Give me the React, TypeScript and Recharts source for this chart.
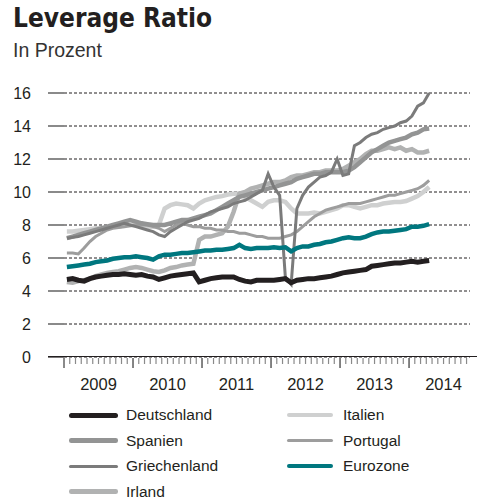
import React from 'react';
import { LineChart, Line, XAxis, YAxis, CartesianGrid } from 'recharts';

// Monthly values, Jan 2009 .. Apr 2014
const DEUTSCHLAND = [
  4.7, 4.75, 4.65, 4.6, 4.75, 4.85, 4.9, 4.95, 5.0, 5.0, 5.05, 5.0,
  4.95, 5.0, 4.9, 4.85, 4.7, 4.8, 4.9, 4.95, 5.0, 5.05, 5.1, 4.55,
  4.65, 4.75, 4.8, 4.85, 4.85, 4.85, 4.7, 4.6, 4.55, 4.65, 4.65, 4.65,
  4.65, 4.7, 4.75, 4.5, 4.65, 4.7, 4.75, 4.75, 4.8, 4.85, 4.9, 5.0,
  5.1, 5.15, 5.2, 5.25, 5.3, 5.5, 5.55, 5.6, 5.65, 5.7, 5.7, 5.75,
  5.8, 5.75, 5.8, 5.85,
];
const EUROZONE = [
  5.45, 5.5, 5.55, 5.6, 5.65, 5.75, 5.8, 5.85, 5.95, 6.0, 6.05, 6.05,
  6.1, 6.05, 6.0, 5.9, 6.1, 6.2, 6.2, 6.25, 6.3, 6.3, 6.35, 6.4,
  6.45, 6.45, 6.5, 6.5, 6.55, 6.6, 6.8, 6.6, 6.55, 6.6, 6.6, 6.6,
  6.65, 6.6, 6.65, 6.4, 6.6, 6.7, 6.7, 6.8, 6.85, 6.95, 7.0, 7.1,
  7.2, 7.25, 7.2, 7.2, 7.3, 7.45, 7.55, 7.6, 7.6, 7.65, 7.7, 7.75,
  7.9, 7.9, 7.95, 8.05,
];
const ITALIEN = [
  7.6, 7.6, 7.65, 7.7, 7.75, 7.8, 7.8, 7.85, 7.9, 7.9, 8.0, 8.0,
  8.0, 7.95, 7.9, 7.9, 8.0, 9.0, 9.2, 9.3, 9.25, 9.2, 9.0, 9.3,
  9.5, 9.6, 9.7, 9.75, 9.85, 9.9, 9.9, 9.7, 9.5, 9.3, 9.1, 9.4,
  9.5, 9.5, 9.4, 9.0, 8.7, 8.7, 8.7, 8.75, 8.7, 8.8, 8.9, 9.0,
  9.2, 9.2, 9.1, 9.0, 9.1, 9.2, 9.2, 9.3, 9.35, 9.4, 9.4, 9.45,
  9.6, 9.75, 10.0, 10.3,
];
const IRLAND = [
  4.55, 4.5, 4.6, 4.65, 4.75, 4.9, 5.0, 5.1, 5.15, 5.2, 5.3, 5.4,
  5.45, 5.4, 5.3, 5.2, 5.15, 5.25, 5.4, 5.45, 5.55, 5.6, 5.65, 7.1,
  7.3, 7.3, 7.4, 7.5, 7.9, 8.8, 9.9, 10.0, 10.2, 10.3, 10.4, 10.5,
  10.6, 10.6, 10.7, 10.9, 11.0, 11.0, 11.1, 11.2, 11.2, 11.3, 11.3, 11.3,
  11.4, 11.6, 11.8, 12.0, 12.3, 12.5, 12.5, 12.6, 12.7, 12.6, 12.7, 12.5,
  12.6, 12.4, 12.4, 12.5,
];
const SPANIEN = [
  7.2, 7.3, 7.4, 7.5, 7.6, 7.7, 7.8, 7.9, 8.0, 8.1, 8.2, 8.3,
  8.2, 8.1, 8.05, 8.0, 8.0, 8.0, 8.1, 8.2, 8.3, 8.3, 8.4, 8.5,
  8.6, 8.7, 8.9, 9.1, 9.3, 9.5, 9.7, 9.8, 9.9, 10.0, 10.1, 10.2,
  10.3, 10.4, 10.5, 10.6, 10.8, 10.9, 11.0, 11.1, 11.1, 11.2, 11.2, 11.2,
  11.2, 11.3, 11.5, 11.8, 12.1, 12.4, 12.6, 12.8, 13.0, 13.1, 13.2, 13.3,
  13.5, 13.6, 13.8, 13.85,
];
const PORTUGAL = [
  6.3, 6.3, 6.25, 6.6, 7.0, 7.3, 7.5, 7.7, 7.8, 7.85, 7.9, 7.95,
  8.0, 8.0, 8.0, 7.9, 7.8, 7.6, 7.8, 8.0, 8.1, 8.0, 7.9, 7.9,
  7.8, 7.8, 7.7, 7.7, 7.6, 7.6, 7.5, 7.5, 7.4, 7.3, 7.3, 7.2,
  7.2, 7.2, 7.3, 7.4, 7.6, 7.9, 8.2, 8.5, 8.7, 8.9, 9.0, 9.1,
  9.2, 9.3, 9.3, 9.3, 9.4, 9.5, 9.6, 9.7, 9.8, 9.8, 9.9, 10.0,
  10.1, 10.2, 10.4, 10.7,
];
const GRIECHENLAND = [
  7.2, 7.25, 7.3, 7.4, 7.5, 7.6, 7.7, 7.8, 7.9, 8.0, 8.1, 8.0,
  7.9, 7.8, 7.7, 7.6, 7.4, 7.3, 7.6, 7.8, 8.0, 8.2, 8.3, 8.4,
  8.6, 8.8, 8.9, 9.0, 9.1, 9.3, 9.4, 9.5, 9.7, 9.9, 10.1, 11.1,
  10.3, 9.8, 4.8, 4.4, 9.0, 9.8, 10.3, 10.6, 10.9, 11.0, 11.2, 12.0,
  11.0, 11.1, 12.8, 13.0, 13.3, 13.5, 13.6, 13.8, 13.9, 14.0, 14.2, 14.3,
  14.6, 15.2, 15.4, 16.0,
];

const YEAR_LABELS = ['2009', '2010', '2011', '2012', '2013', '2014'];
const Y_TICKS = [0, 2, 4, 6, 8, 10, 12, 14, 16];
const MONTH_TICKS = Array.from({ length: 71 }, (_, k) => k);

const SERIES = [
  { key: 'italien', name: 'Italien', values: ITALIEN, color: '#cfd0d0', width: 4.5 },
  { key: 'irland', name: 'Irland', values: IRLAND, color: '#b1b2b2', width: 4.5 },
  { key: 'portugal', name: 'Portugal', values: PORTUGAL, color: '#9d9d9d', width: 3 },
  { key: 'spanien', name: 'Spanien', values: SPANIEN, color: '#939494', width: 4.5 },
  { key: 'griechenland', name: 'Griechenland', values: GRIECHENLAND, color: '#7b7b7b', width: 3 },
  { key: 'eurozone', name: 'Eurozone', values: EUROZONE, color: '#00777f', width: 4.5 },
  { key: 'deutschland', name: 'Deutschland', values: DEUTSCHLAND, color: '#231f20', width: 5 },
];

const LEGEND_ORDER = [
  ['deutschland', 'italien'],
  ['spanien', 'portugal'],
  ['griechenland', 'eurozone'],
  ['irland'],
];

const data = DEUTSCHLAND.map((_, i) => {
  const row: Record<string, number> = { t: i + 0.5 };
  SERIES.forEach((s) => {
    row[s.key] = s.values[i];
  });
  return row;
});

const FONT = "'Liberation Sans', Arial, sans-serif";

const XTick = (props: any) => {
  const { x, y, payload } = props;
  const v = payload.value as number;
  const isYear = v % 12 === 0;
  const label = v % 12 === 6 ? YEAR_LABELS[(v - 6) / 12] : null;
  return (
    <g>
      <line
        x1={x}
        x2={x}
        y1={y + 1}
        y2={y + (isYear ? 11 : 7)}
        stroke={isYear && v > 0 ? '#333' : '#8a8a8a'}
        strokeWidth={isYear && v === 0 ? 2 : 1.2}
      />
      {label && (
        <text x={x} y={y + 33} textAnchor="middle" fontSize={16.5} fill="#231f20" fontFamily={FONT}>
          {label}
        </text>
      )}
    </g>
  );
};

const YTick = (props: any) => {
  const { x, y, payload } = props;
  return (
    <g>
      <line
        x1={x - 16}
        x2={x}
        y1={y}
        y2={y}
        stroke={payload.value === 0 ? '#231f20' : '#8a8a8a'}
        strokeWidth={payload.value === 0 ? 1.2 : 2}
      />
      <text x={x - 33} y={y + 5.5} textAnchor="end" fontSize={16} fill="#231f20" fontFamily={FONT}>
        {payload.value}
      </text>
    </g>
  );
};

export default function App() {
  return (
    <div style={{ position: 'absolute', left: 0, top: 0, width: 478, height: 502, background: '#fff', fontFamily: FONT }}>
      <div
        style={{
          position: 'absolute',
          left: 13,
          top: 3,
          fontSize: 26,
          fontWeight: 700,
          color: '#231f20',
          fontFamily: "'Liberation Sans Narrow', 'DejaVu Sans Condensed', sans-serif",
          whiteSpace: 'nowrap',
        }}
      >
        Leverage Ratio
      </div>
      <div style={{ position: 'absolute', left: 13, top: 39, fontSize: 19.5, color: '#333', whiteSpace: 'nowrap' }}>
        In Prozent
      </div>

      <div style={{ position: 'absolute', left: 0, top: 0 }}>
        <LineChart width={478} height={400} data={data} margin={{ top: 93, right: 8, bottom: 3, left: 0 }}>
          <CartesianGrid vertical={false} stroke="#231f20" strokeDasharray="3 2" strokeWidth={1} />
          <XAxis
            type="number"
            dataKey="t"
            domain={[0, 70.6]}
            ticks={MONTH_TICKS}
            interval={0}
            tick={<XTick />}
            tickLine={false}
            axisLine={false}
            tickSize={0}
            tickMargin={0}
            height={40}
          />
          <YAxis
            type="number"
            domain={[0, 16]}
            ticks={Y_TICKS}
            interval={0}
            tick={<YTick />}
            tickLine={false}
            axisLine={false}
            tickSize={0}
            tickMargin={0}
            width={64}
          />
          {SERIES.map((s) => (
            <Line
              key={s.key}
              type="linear"
              dataKey={s.key}
              stroke={s.color}
              strokeWidth={s.width}
              dot={false}
              activeDot={false}
              isAnimationActive={false}
            />
          ))}
        </LineChart>
      </div>

      {/* x axis baseline, runs a bit past the plot on both sides */}
      <div style={{ position: 'absolute', left: 48, top: 356, width: 429, height: 1.3, background: '#231f20' }} />

      {LEGEND_ORDER.map((row, r) =>
        row.map((key, c) => {
          const s = SERIES.find((d) => d.key === key)!;
          const lineLeft = c === 0 ? 69 : 287;
          const textLeft = c === 0 ? 126 : 343;
          const cy = 415 + r * 25.5;
          return (
            <React.Fragment key={key}>
              <div
                style={{
                  position: 'absolute',
                  left: lineLeft,
                  top: cy - s.width / 2,
                  width: c === 0 ? 49 : 46,
                  height: s.width,
                  borderRadius: s.width / 2,
                  background: s.color,
                }}
              />
              <div
                style={{
                  position: 'absolute',
                  left: textLeft,
                  top: cy - 10,
                  fontSize: 15.5,
                  lineHeight: '20px',
                  color: '#231f20',
                  whiteSpace: 'nowrap',
                }}
              >
                {s.name}
              </div>
            </React.Fragment>
          );
        })
      )}
    </div>
  );
}
